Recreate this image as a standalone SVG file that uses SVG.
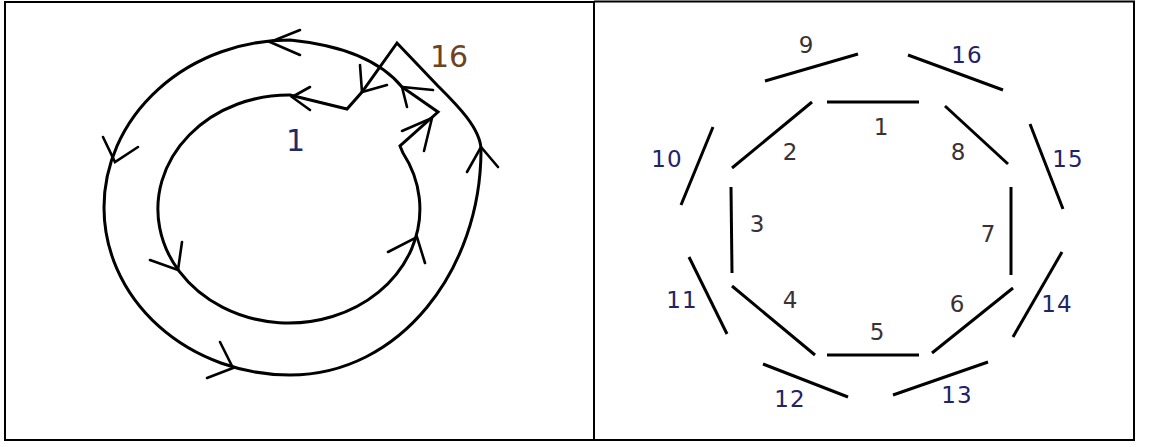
<svg xmlns="http://www.w3.org/2000/svg" width="1149" height="447" viewBox="0 0 1149 447">
<style>
.frame{stroke:#000;stroke-width:2;fill:none}
.curve{stroke:#000;stroke-width:3;fill:none;stroke-linejoin:miter}
.arr{stroke:#000;stroke-width:2.6;fill:none;stroke-linecap:round;stroke-linejoin:miter}
.seg{stroke:#000;stroke-width:3;fill:none}
.lbl{font-family:"DejaVu Sans",sans-serif;font-size:23px;text-anchor:middle;fill:#3a3232}
.lbl2{font-family:"DejaVu Sans",sans-serif;font-size:23px;text-anchor:middle;fill:#1e2466;letter-spacing:1px}
.big{font-family:"DejaVu Sans",sans-serif;font-size:30px}
</style>
<rect width="1149" height="447" fill="#fff"/>
<g id="table">
<path class="frame" d="M4 2H594M5 1V441M594 1V441M4 440H1135M1134 1V441"/>
<path class="frame" stroke-width="1.5" d="M594 1.5H1135"/>
</g>
<g id="connectors">
<path id="spiral" class="curve" d="M397 43 L362 92 L347 109 L290 95 A131 114 0 1 0 403 153 L400 146 L438 112 L402 87 Q370 48 290 40 A186 167.5 0 0 0 290 375 C400 375 481 270 481 150 C481 128 455 103 437 85 Z"/>
<g id="arrowheads">
<path class="arr" d="M300 30 L270 42 L300 55"/>
<path class="arr" d="M103 137 L115 162 L138 147"/>
<path class="arr" d="M220 342 L233 368 L207 378"/>
<path class="arr" d="M467 172 L481 147 L498 167"/>
<path class="arr" d="M407 107 L402 87 L433 90"/>
<path class="arr" d="M360 65 L362 92 L387 85"/>
<path class="arr" d="M310 87 L292 97 L310 110"/>
<path class="arr" d="M182 242 L178 270 L150 260"/>
<path class="arr" d="M388 252 L417 237 L425 263"/>
<path class="arr" d="M402 131 L432 118 L424 151"/>
</g>
</g>
<g id="left-labels">
<text class="big" x="430" y="67" fill="#6b4423">16</text>
<text class="big" x="286" y="151" fill="#1f2a6b">1</text>
</g>
<g id="segments">
<g id="s1"><line class="seg" x1="827" y1="102" x2="919" y2="102"/><text class="lbl" x="881" y="135">1</text></g>
<g id="s2"><line class="seg" x1="812" y1="102" x2="732" y2="168"/><text class="lbl" x="790" y="160">2</text></g>
<g id="s3"><line class="seg" x1="731" y1="187" x2="732" y2="273"/><text class="lbl" x="757" y="232">3</text></g>
<g id="s4"><line class="seg" x1="732" y1="286" x2="815" y2="355"/><text class="lbl" x="790" y="308">4</text></g>
<g id="s5"><line class="seg" x1="827" y1="355" x2="919" y2="355"/><text class="lbl" x="877" y="340">5</text></g>
<g id="s6"><line class="seg" x1="1013" y1="288" x2="932" y2="353"/><text class="lbl" x="957" y="312">6</text></g>
<g id="s7"><line class="seg" x1="1011" y1="187" x2="1011" y2="275"/><text class="lbl" x="988" y="242">7</text></g>
<g id="s8"><line class="seg" x1="945" y1="106" x2="1008" y2="164"/><text class="lbl" x="958" y="160">8</text></g>
<g id="s9"><line class="seg" x1="765" y1="81" x2="858" y2="54"/><text class="lbl" x="806" y="53">9</text></g>
<g id="s10"><line class="seg" x1="713" y1="127" x2="681" y2="205"/><text class="lbl2" x="667" y="167">10</text></g>
<g id="s11"><line class="seg" x1="689" y1="257" x2="727" y2="334"/><text class="lbl2" x="682" y="308">11</text></g>
<g id="s12"><line class="seg" x1="763" y1="364" x2="848" y2="397"/><text class="lbl2" x="790" y="407">12</text></g>
<g id="s13"><line class="seg" x1="988" y1="362" x2="893" y2="395"/><text class="lbl2" x="957" y="403">13</text></g>
<g id="s14"><line class="seg" x1="1062" y1="252" x2="1013" y2="337"/><text class="lbl2" x="1057" y="312">14</text></g>
<g id="s15"><line class="seg" x1="1030" y1="124" x2="1063" y2="209"/><text class="lbl2" x="1068" y="167">15</text></g>
<g id="s16"><line class="seg" x1="908" y1="55" x2="1003" y2="90"/><text class="lbl2" x="967" y="63">16</text></g>
</g>
</svg>
